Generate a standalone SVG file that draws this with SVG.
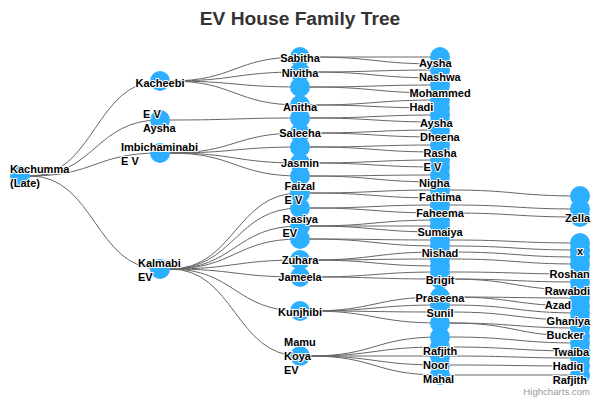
<svg xmlns="http://www.w3.org/2000/svg" width="600" height="400" viewBox="0 0 600 400">
<style>
.link{fill:none;stroke:#666666;stroke-width:1}
.node circle{fill:#2caffe}
.lbl{font-family:"Liberation Sans",Arial,Helvetica,sans-serif;font-size:11px;font-weight:bold;fill:#000000;stroke:#ffffff;stroke-width:2px;stroke-linejoin:round;paint-order:stroke fill}
.c{text-anchor:middle}
.title{font-family:"Liberation Sans",Arial,Helvetica,sans-serif;font-size:19.2px;font-weight:bold;fill:#333333;text-anchor:middle}
.credits{font-family:"Liberation Sans",Arial,Helvetica,sans-serif;font-size:9.6px;fill:#999999;text-anchor:end}
</style>
<rect width="600" height="400" fill="#ffffff"/>
<text class="title" x="300" y="25">EV House Family Tree</text>
<g id="connectors">
<path class="link" d="M30 176C95 176 95 81 160 81"/>
<path class="link" d="M30 176C95 176 95 120 160 120"/>
<path class="link" d="M30 176C95 176 95 153 160 153"/>
<path class="link" d="M30 176C95 176 95 269 160 269"/>
<path class="link" d="M170 81C235 81 235 57 300 57"/>
<path class="link" d="M170 81C235 81 235 72 300 72"/>
<path class="link" d="M170 81C235 81 235 87 300 87"/>
<path class="link" d="M170 81C235 81 235 105 300 105"/>
<path class="link" d="M170 120C235 120 235 118 300 118"/>
<path class="link" d="M170 153C235 153 235 133 300 133"/>
<path class="link" d="M170 153C235 153 235 147 300 147"/>
<path class="link" d="M170 153C235 153 235 163 300 163"/>
<path class="link" d="M170 153C235 153 235 176 300 176"/>
<path class="link" d="M170 269C235 269 235 193 300 193"/>
<path class="link" d="M170 269C235 269 235 208 300 208"/>
<path class="link" d="M170 269C235 269 235 226 300 226"/>
<path class="link" d="M170 269C235 269 235 239 300 239"/>
<path class="link" d="M170 269C235 269 235 260 300 260"/>
<path class="link" d="M170 269C235 269 235 277 300 277"/>
<path class="link" d="M170 269C235 269 235 311 300 311"/>
<path class="link" d="M170 269C235 269 235 356 300 356"/>
<path class="link" d="M310 57C375 57 375 57 440 57"/>
<path class="link" d="M310 57C375 57 375 64 440 64"/>
<path class="link" d="M310 72C375 72 375 70 440 70"/>
<path class="link" d="M310 72C375 72 375 78 440 78"/>
<path class="link" d="M310 87C375 87 375 85 440 85"/>
<path class="link" d="M310 87C375 87 375 93 440 93"/>
<path class="link" d="M310 105C375 105 375 100 440 100"/>
<path class="link" d="M310 105C375 105 375 108 440 108"/>
<path class="link" d="M310 118C375 118 375 115 440 115"/>
<path class="link" d="M310 118C375 118 375 122 440 122"/>
<path class="link" d="M310 133C375 133 375 130 440 130"/>
<path class="link" d="M310 133C375 133 375 137 440 137"/>
<path class="link" d="M310 147C375 147 375 145 440 145"/>
<path class="link" d="M310 147C375 147 375 152 440 152"/>
<path class="link" d="M310 163C375 163 375 160 440 160"/>
<path class="link" d="M310 163C375 163 375 167 440 167"/>
<path class="link" d="M310 176C375 176 375 175 440 175"/>
<path class="link" d="M310 176C375 176 375 182 440 182"/>
<path class="link" d="M310 193C375 193 375 190 440 190"/>
<path class="link" d="M310 193C375 193 375 198 440 198"/>
<path class="link" d="M310 208C375 208 375 205 440 205"/>
<path class="link" d="M310 208C375 208 375 213 440 213"/>
<path class="link" d="M310 226C375 226 375 220 440 220"/>
<path class="link" d="M310 226C375 226 375 226 440 226"/>
<path class="link" d="M310 226C375 226 375 232 440 232"/>
<path class="link" d="M310 239C375 239 375 240 440 240"/>
<path class="link" d="M310 239C375 239 375 246 440 246"/>
<path class="link" d="M310 260C375 260 375 252 440 252"/>
<path class="link" d="M310 260C375 260 375 259 440 259"/>
<path class="link" d="M310 260C375 260 375 266 440 266"/>
<path class="link" d="M310 277C375 277 375 272 440 272"/>
<path class="link" d="M310 277C375 277 375 279 440 279"/>
<path class="link" d="M310 311C375 311 375 297 440 297"/>
<path class="link" d="M310 311C375 311 375 305 440 305"/>
<path class="link" d="M310 311C375 311 375 312 440 312"/>
<path class="link" d="M310 311C375 311 375 323 440 323"/>
<path class="link" d="M310 356C375 356 375 337 440 337"/>
<path class="link" d="M310 356C375 356 375 347 440 347"/>
<path class="link" d="M310 356C375 356 375 356 440 356"/>
<path class="link" d="M310 356C375 356 375 365 440 365"/>
<path class="link" d="M310 356C375 356 375 375 440 375"/>
<path class="link" d="M450 190C515 190 515 196 580 196"/>
<path class="link" d="M450 205C515 205 515 209 580 209"/>
<path class="link" d="M450 213C515 213 515 217 580 217"/>
<path class="link" d="M450 240C515 240 515 243 580 243"/>
<path class="link" d="M450 246C515 246 515 250 580 250"/>
<path class="link" d="M450 252C515 252 515 257 580 257"/>
<path class="link" d="M450 259C515 259 515 264 580 264"/>
<path class="link" d="M450 272C515 272 515 274 580 274"/>
<path class="link" d="M450 279C515 279 515 282 580 282"/>
<path class="link" d="M450 279C515 279 515 290 580 290"/>
<path class="link" d="M450 297C515 297 515 298 580 298"/>
<path class="link" d="M450 297C515 297 515 306 580 306"/>
<path class="link" d="M450 305C515 305 515 313 580 313"/>
<path class="link" d="M450 312C515 312 515 320 580 320"/>
<path class="link" d="M450 323C515 323 515 328 580 328"/>
<path class="link" d="M450 323C515 323 515 336 580 336"/>
<path class="link" d="M450 337C515 337 515 343 580 343"/>
<path class="link" d="M450 347C515 347 515 351 580 351"/>
<path class="link" d="M450 356C515 356 515 358 580 358"/>
<path class="link" d="M450 365C515 365 515 366 580 366"/>
<path class="link" d="M450 375C515 375 515 375 580 375"/>
</g>
<g id="nodes">
<g class="node" id="kachumma"><circle cx="20" cy="176" r="10"/><text class="lbl"><tspan x="10" y="173">Kachumma</tspan><tspan x="10" y="187">(Late)</tspan></text></g>
<g class="node" id="kacheebi"><circle cx="160" cy="81" r="10"/><text class="lbl c" x="160" y="86.5">Kacheebi</text></g>
<g class="node" id="ev-aysha"><circle cx="160" cy="120" r="10"/><text class="lbl"><tspan x="143" y="118">E V</tspan><tspan x="143" y="132">Aysha</tspan></text></g>
<g class="node" id="imbichaminabi"><circle cx="160" cy="153" r="10"/><text class="lbl"><tspan x="121" y="151">Imbichaminabi</tspan><tspan x="121" y="165">E V</tspan></text></g>
<g class="node" id="kalmabi"><circle cx="160" cy="269" r="10"/><text class="lbl"><tspan x="138" y="267">Kalmabi</tspan><tspan x="138" y="281">EV</tspan></text></g>
<g class="node" id="l3-87"><circle cx="300" cy="87" r="10"/></g>
<g class="node" id="l3-118"><circle cx="300" cy="118" r="10"/></g>
<g class="node" id="l3-147"><circle cx="300" cy="147" r="10"/></g>
<g class="node" id="l3-176"><circle cx="300" cy="176" r="10"/></g>
<g class="node" id="l3-208"><circle cx="300" cy="208" r="10"/></g>
<g class="node" id="l3-239"><circle cx="300" cy="239" r="10"/></g>
<g class="node" id="sabitha"><circle cx="300" cy="57" r="10"/><text class="lbl c" x="300" y="62">Sabitha</text></g>
<g class="node" id="nivitha"><circle cx="300" cy="72" r="10"/><text class="lbl c" x="300" y="77">Nivitha</text></g>
<g class="node" id="anitha"><circle cx="300" cy="105" r="10"/><text class="lbl c" x="300" y="110.5">Anitha</text></g>
<g class="node" id="saleeha"><circle cx="300" cy="133" r="10"/><text class="lbl c" x="300" y="137">Saleeha</text></g>
<g class="node" id="jasmin"><circle cx="300" cy="163" r="10"/><text class="lbl c" x="300" y="167">Jasmin</text></g>
<g class="node" id="faizal-ev"><circle cx="300" cy="193" r="10"/><text class="lbl"><tspan x="284.5" y="190">Faizal</tspan><tspan x="284.5" y="204">E V</tspan></text></g>
<g class="node" id="rasiya-ev"><circle cx="300" cy="226" r="10"/><text class="lbl"><tspan x="282.5" y="223">Rasiya</tspan><tspan x="282.5" y="237">EV</tspan></text></g>
<g class="node" id="zuhara"><circle cx="300" cy="260" r="10"/><text class="lbl c" x="300" y="264">Zuhara</text></g>
<g class="node" id="jameela"><circle cx="300" cy="277" r="10"/><text class="lbl c" x="300" y="281">Jameela</text></g>
<g class="node" id="kunjhibi"><circle cx="300" cy="311" r="10"/><text class="lbl c" x="300" y="316">Kunjhibi</text></g>
<g class="node" id="mamu-koya-ev"><circle cx="300" cy="356" r="10"/><text class="lbl"><tspan x="284" y="346">Mamu</tspan><tspan x="284" y="360">Koya</tspan><tspan x="284" y="374">EV</tspan></text></g>
<g class="node" id="l4-57"><circle cx="440" cy="57" r="10"/></g>
<g class="node" id="l4-64"><circle cx="440" cy="64" r="10"/></g>
<g class="node" id="l4-78"><circle cx="440" cy="78" r="10"/></g>
<g class="node" id="l4-85"><circle cx="440" cy="85" r="10"/></g>
<g class="node" id="l4-93"><circle cx="440" cy="93" r="10"/></g>
<g class="node" id="l4-108"><circle cx="440" cy="108" r="10"/></g>
<g class="node" id="l4-115"><circle cx="440" cy="115" r="10"/></g>
<g class="node" id="l4-122"><circle cx="440" cy="122" r="10"/></g>
<g class="node" id="l4-137"><circle cx="440" cy="137" r="10"/></g>
<g class="node" id="l4-145"><circle cx="440" cy="145" r="10"/></g>
<g class="node" id="l4-152"><circle cx="440" cy="152" r="10"/></g>
<g class="node" id="l4-167"><circle cx="440" cy="167" r="10"/></g>
<g class="node" id="l4-175"><circle cx="440" cy="175" r="10"/></g>
<g class="node" id="l4-182"><circle cx="440" cy="182" r="10"/></g>
<g class="node" id="l4-198"><circle cx="440" cy="198" r="10"/></g>
<g class="node" id="l4-205"><circle cx="440" cy="205" r="10"/></g>
<g class="node" id="l4-220"><circle cx="440" cy="220" r="10"/></g>
<g class="node" id="l4-226"><circle cx="440" cy="226" r="10"/></g>
<g class="node" id="l4-240"><circle cx="440" cy="240" r="10"/></g>
<g class="node" id="l4-246"><circle cx="440" cy="246" r="10"/></g>
<g class="node" id="l4-259"><circle cx="440" cy="259" r="10"/></g>
<g class="node" id="l4-266"><circle cx="440" cy="266" r="10"/></g>
<g class="node" id="l4-272"><circle cx="440" cy="272" r="10"/></g>
<g class="node" id="l4-305"><circle cx="440" cy="305" r="10"/></g>
<g class="node" id="l4-323"><circle cx="440" cy="323" r="10"/></g>
<g class="node" id="l4-337"><circle cx="440" cy="337" r="10"/></g>
<g class="node" id="l4-347"><circle cx="440" cy="347" r="10"/></g>
<g class="node" id="l4-356"><circle cx="440" cy="356" r="10"/></g>
<g class="node" id="l4-375"><circle cx="440" cy="375" r="10"/></g>
<g class="node" id="aysha-nashwa"><circle cx="440" cy="70" r="10"/><text class="lbl"><tspan x="419" y="67">Aysha</tspan><tspan x="419" y="81">Nashwa</tspan></text></g>
<g class="node" id="mohammed-hadi"><circle cx="440" cy="100" r="10"/><text class="lbl"><tspan x="409.5" y="97">Mohammed</tspan><tspan x="409.5" y="111">Hadi</tspan></text></g>
<g class="node" id="aysha-dheena"><circle cx="440" cy="130" r="10"/><text class="lbl"><tspan x="420" y="127">Aysha</tspan><tspan x="420" y="141">Dheena</tspan></text></g>
<g class="node" id="rasha-ev"><circle cx="440" cy="160" r="10"/><text class="lbl"><tspan x="423.5" y="157">Rasha</tspan><tspan x="423.5" y="171">E V</tspan></text></g>
<g class="node" id="sumaiya"><circle cx="440" cy="232" r="10"/><text class="lbl c" x="440" y="236">Sumaiya</text></g>
<g class="node" id="faheema"><circle cx="440" cy="213" r="10"/><text class="lbl c" x="440" y="217">Faheema</text></g>
<g class="node" id="nigha-fathima"><circle cx="440" cy="190" r="10"/><text class="lbl"><tspan x="419" y="187">Nigha</tspan><tspan x="419" y="201">Fathima</tspan></text></g>
<g class="node" id="nishad"><circle cx="440" cy="252" r="10"/><text class="lbl c" x="440" y="256.5">Nishad</text></g>
<g class="node" id="brigit"><circle cx="440" cy="279" r="10"/><text class="lbl c" x="440" y="283.5">Brigit</text></g>
<g class="node" id="praseena"><circle cx="440" cy="297" r="10"/><text class="lbl c" x="440" y="301.5">Praseena</text></g>
<g class="node" id="sunil"><circle cx="440" cy="312" r="10"/><text class="lbl c" x="440" y="316.5">Sunil</text></g>
<g class="node" id="rafjith-noor-mahal"><circle cx="440" cy="365" r="10"/><text class="lbl"><tspan x="423" y="355">Rafjith</tspan><tspan x="423" y="369">Noor</tspan><tspan x="423" y="383">Mahal</tspan></text></g>
<g class="node" id="l5-196"><circle cx="580" cy="196" r="10"/></g>
<g class="node" id="l5-209"><circle cx="580" cy="209" r="10"/></g>
<g class="node" id="l5-243"><circle cx="580" cy="243" r="10"/></g>
<g class="node" id="l5-257"><circle cx="580" cy="257" r="10"/></g>
<g class="node" id="l5-264"><circle cx="580" cy="264" r="10"/></g>
<g class="node" id="l5-282"><circle cx="580" cy="282" r="10"/></g>
<g class="node" id="l5-290"><circle cx="580" cy="290" r="10"/></g>
<g class="node" id="l5-306"><circle cx="580" cy="306" r="10"/></g>
<g class="node" id="l5-313"><circle cx="580" cy="313" r="10"/></g>
<g class="node" id="l5-320"><circle cx="580" cy="320" r="10"/></g>
<g class="node" id="l5-336"><circle cx="580" cy="336" r="10"/></g>
<g class="node" id="l5-343"><circle cx="580" cy="343" r="10"/></g>
<g class="node" id="l5-351"><circle cx="580" cy="351" r="10"/></g>
<g class="node" id="l5-358"><circle cx="580" cy="358" r="10"/></g>
<g class="node" id="l5-375"><circle cx="580" cy="375" r="10"/></g>
<g class="node" id="zella"><circle cx="580" cy="217" r="10"/><text class="lbl" x="565" y="222">Zella</text></g>
<g class="node" id="x"><circle cx="580" cy="250" r="10"/><text class="lbl c" x="580" y="255">x</text></g>
<g class="node" id="roshan"><circle cx="580" cy="274" r="10"/><text class="lbl" x="549.5" y="278">Roshan</text></g>
<g class="node" id="rawabdi-azad"><circle cx="580" cy="298" r="10"/><text class="lbl"><tspan x="544.8" y="295">Rawabdi</tspan><tspan x="544.8" y="309">Azad</tspan></text></g>
<g class="node" id="ghaniya-bucker"><circle cx="580" cy="328" r="10"/><text class="lbl"><tspan x="546.6" y="325">Ghaniya</tspan><tspan x="546.6" y="339">Bucker</tspan></text></g>
<g class="node" id="twaiba-hadiq-rafjith"><circle cx="580" cy="366" r="10"/><text class="lbl"><tspan x="552.7" y="356">Twaiba</tspan><tspan x="552.7" y="370">Hadiq</tspan><tspan x="552.7" y="384">Rafjith</tspan></text></g>
</g>
<text class="credits" x="590" y="395">Highcharts.com</text>
</svg>
